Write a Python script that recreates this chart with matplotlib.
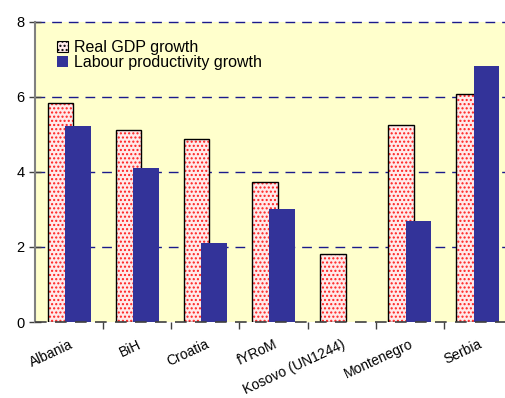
import matplotlib.pyplot as plt
import numpy as np
from matplotlib.patches import Patch

plt.rcParams['font.family'] = ['Liberation Sans', 'DejaVu Sans']

countries = ["Albania", "BiH", "Croatia", "fYRoM", "Kosovo (UN1244)", "Montenegro", "Serbia"]
gdp_growth = [5.83, 5.12, 4.88, 3.72, 1.81, 5.25, 6.07]
labour_growth = [5.22, 4.10, 2.10, 3.00, np.nan, 2.69, 6.82]

x = np.arange(len(countries))
w = 0.375
off = 0.128

fig = plt.figure(figsize=(5.05, 3.98), dpi=100)
ax = fig.add_axes([35 / 505, 76 / 398, 477 / 505, 300 / 398])
ax.set_facecolor('#ffffcc')

# dotted red fill first, then the black outline on top
ax.bar(x - off, gdp_growth, w, color='#ffeaea', hatch='....', edgecolor='#ff2020',
       linewidth=0, zorder=2)
ax.bar(x - off, gdp_growth, w, fill=False, edgecolor='black', linewidth=1.0, zorder=3)
ax.bar(x + off, labour_growth, w, color='#333399', linewidth=0, zorder=4)

for yv in [2, 4, 6, 8]:
    ax.axhline(yv, color='#1a1a8c', lw=1.0, ls=(0, (7, 5)), zorder=1, clip_on=False)
ax.axhline(0, color='#404040', lw=1.2, ls=(0, (7, 5)), zorder=5, clip_on=False)

ax.set_xlim(-0.5, len(countries) - 0.5)
ax.set_ylim(0, 8)
ax.set_yticks([0, 2, 4, 6, 8])
ax.tick_params(axis='y', direction='inout', length=9, width=1, color='#404040',
               labelsize=10.5, pad=3)
ax.set_xticks(x)
ax.set_xticklabels(countries, rotation=25, ha='right', rotation_mode='anchor', fontsize=10)
ax.set_xticks(np.arange(len(countries)) + 0.5, minor=True)
ax.tick_params(axis='x', which='major', length=0, pad=11)
ax.tick_params(axis='x', which='minor', direction='out', length=5, width=1, color='#404040')

for s in ['top', 'right', 'bottom']:
    ax.spines[s].set_visible(False)
ax.spines['left'].set_color('#808080')
ax.spines['left'].set_linewidth(1.5)

handles = [Patch(facecolor='#ffeaea', hatch='....', edgecolor='black', linewidth=0.8),
           Patch(facecolor='#333399')]
ax.legend(handles, ["Real GDP growth", "Labour productivity growth"],
          loc='upper left', bbox_to_anchor=(0.033, 0.962), frameon=False,
          fontsize=11.5, handlelength=0.65, handleheight=0.65,
          handletextpad=0.4, labelspacing=0.0, borderaxespad=0)

fig.savefig('out.png', dpi=100)
